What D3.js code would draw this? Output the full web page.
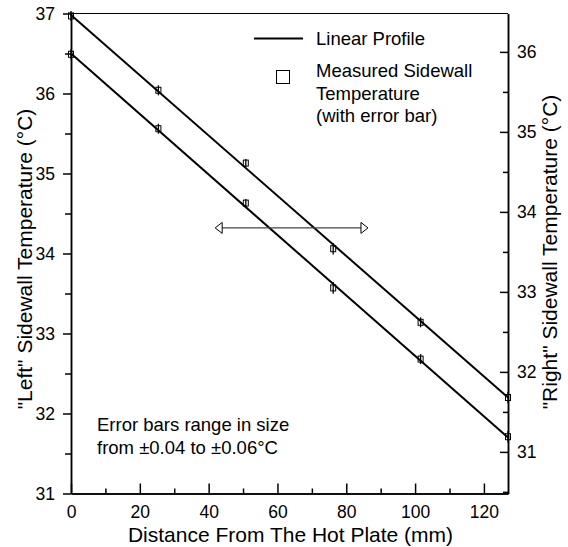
<!DOCTYPE html>
<html>
<head>
<meta charset="utf-8">
<script src="https://cdn.jsdelivr.net/npm/d3@7"></script>
<style>
  body { margin: 0; background: white; }
  text { font-family: "Liberation Sans", Arial, sans-serif; fill: black; }
  .axis path, .axis line { stroke: black; stroke-width: 1.5; }
  .axis text { font-size: 17.5px; font-family: "Liberation Sans", Arial, sans-serif; }
</style>
</head>
<body>
<div class="plot"></div>
<script>
// Data
var distance = [0, 25.4, 50.8, 76.2, 101.6, 127];
var leftTemp = [36.49, 35.56, 34.63, 33.57, 32.68, 31.71];
var rightTemp = [36.45, 35.52, 34.61, 33.54, 32.62, 31.68];
var errBar = [0.05, 0.05, 0.04, 0.06, 0.05, 0.06];

// Linear profiles (end points)
var profileX = [0, 127];
var leftProfile = [36.50, 31.70];
var rightProfile = [36.46, 31.68];

// Tick values
var xTicks = [0, 20, 40, 60, 80, 100, 120];
var xMinor = [10, 30, 50, 70, 90, 110];
var yLeftTicks = [31, 32, 33, 34, 35, 36, 37];
var yLeftMinor = [31.5, 32.5, 33.5, 34.5, 35.5, 36.5];
var yRightTicks = [31, 32, 33, 34, 35, 36];
var yRightMinor = [30.5, 31.5, 32.5, 33.5, 34.5, 35.5];

var outerWidth = 568,
    outerHeight = 547,
    margin = {top: 13.5, right: 60, bottom: 53.5, left: 71},
    width = outerWidth - margin.left - margin.right,
    height = outerHeight - margin.top - margin.bottom;

var svg = d3.select(".plot")
    .append("svg")
    .attr("width", outerWidth)
    .attr("height", outerHeight);

svg.append("rect")
    .attr("width", "100%")
    .attr("height", "100%")
    .attr("fill", "white");

var canvas = svg.append("g")
    .attr("transform", "translate(" + margin.left + "," + margin.top + ")");

// Scales
var xScale = d3.scaleLinear().domain([0, 127]).range([0, width]);
var yLeft = d3.scaleLinear().domain([31, 37]).range([height, 0]);
var yRight = d3.scaleLinear().domain([30.48, 36.48]).range([height, 0]);
var fmt = d3.format("d");

// Frame top line
canvas.append("line")
    .attr("x1", 0).attr("x2", width)
    .attr("y1", 0).attr("y2", 0)
    .attr("stroke", "black")
    .attr("stroke-width", 1.2);

// Bottom axis (ticks point inward)
canvas.append("g")
    .attr("class", "x axis")
    .attr("transform", "translate(0," + height + ")")
    .call(d3.axisBottom(xScale).tickValues(xTicks).tickFormat(fmt).tickSize(-10).tickSizeOuter(0).tickPadding(12));
canvas.append("g")
    .attr("class", "x axis minor")
    .attr("transform", "translate(0," + height + ")")
    .call(d3.axisBottom(xScale).tickValues(xMinor).tickSize(-5).tickSizeOuter(0).tickFormat(""));

// Left axis (ticks outward)
canvas.append("g")
    .attr("class", "y axis")
    .call(d3.axisLeft(yLeft).tickValues(yLeftTicks).tickFormat(fmt).tickSize(8).tickSizeOuter(0).tickPadding(8));
canvas.append("g")
    .attr("class", "y axis minor")
    .call(d3.axisLeft(yLeft).tickValues(yLeftMinor).tickSize(6).tickSizeOuter(0).tickFormat(""));

// Right axis (ticks inward)
canvas.append("g")
    .attr("class", "y axis")
    .attr("transform", "translate(" + width + ",0)")
    .call(d3.axisRight(yRight).tickValues(yRightTicks).tickFormat(fmt).tickSize(-8).tickSizeOuter(0).tickPadding(9));
canvas.append("g")
    .attr("class", "y axis minor")
    .attr("transform", "translate(" + width + ",0)")
    .call(d3.axisRight(yRight).tickValues(yRightMinor).tickSize(-5).tickSizeOuter(0).tickFormat(""));

// Linear profiles
var leftLine = d3.line().x(d => xScale(d[0])).y(d => yLeft(d[1]));
var rightLine = d3.line().x(d => xScale(d[0])).y(d => yRight(d[1]));

canvas.append("path")
    .datum(d3.zip(profileX, leftProfile))
    .attr("d", leftLine)
    .attr("fill", "none")
    .attr("stroke", "black")
    .attr("stroke-width", 2);

canvas.append("path")
    .datum(d3.zip(profileX, rightProfile))
    .attr("d", rightLine)
    .attr("fill", "none")
    .attr("stroke", "black")
    .attr("stroke-width", 2);

// Measured points with error bars
function drawPoints(values, yScale) {
    var g = canvas.append("g");
    var pts = g.selectAll("g.pt")
        .data(d3.zip(distance, values, errBar))
        .enter().append("g")
        .attr("class", "pt");
    pts.append("line")
        .attr("x1", d => xScale(d[0]))
        .attr("x2", d => xScale(d[0]))
        .attr("y1", d => yScale(d[1] - d[2]) + 1)
        .attr("y2", d => yScale(d[1] + d[2]) - 1)
        .attr("stroke", "black")
        .attr("stroke-width", 1.3);
    pts.append("rect")
        .attr("x", d => xScale(d[0]) - 2.5)
        .attr("y", d => yScale(d[1]) - 3)
        .attr("width", 5)
        .attr("height", 6)
        .attr("fill", "none")
        .attr("stroke", "black")
        .attr("stroke-width", 1);
}
drawPoints(leftTemp, yLeft);
drawPoints(rightTemp, yRight);

// Double arrow pointing to each axis
var arrowY = yLeft(34.32),
    arrowX1 = xScale(41.9),
    arrowX2 = xScale(86.3);
canvas.append("line")
    .attr("x1", arrowX1 + 7).attr("x2", arrowX2 - 7)
    .attr("y1", arrowY).attr("y2", arrowY)
    .attr("stroke", "#444")
    .attr("stroke-width", 1.2);
canvas.append("path")
    .attr("d", "M" + arrowX1 + "," + arrowY + "L" + (arrowX1 + 7) + "," + (arrowY - 5.5) + "L" + (arrowX1 + 7) + "," + (arrowY + 5.5) + "Z")
    .attr("fill", "white").attr("stroke", "black").attr("stroke-width", 1);
canvas.append("path")
    .attr("d", "M" + arrowX2 + "," + arrowY + "L" + (arrowX2 - 7) + "," + (arrowY - 5.5) + "L" + (arrowX2 - 7) + "," + (arrowY + 5.5) + "Z")
    .attr("fill", "white").attr("stroke", "black").attr("stroke-width", 1);

// Legend
var legend = svg.append("g");
legend.append("line")
    .attr("x1", 254).attr("x2", 303)
    .attr("y1", 38.5).attr("y2", 38.5)
    .attr("stroke", "black").attr("stroke-width", 2);
legend.append("text")
    .attr("x", 316).attr("y", 45)
    .style("font-size", "18.5px")
    .text("Linear Profile");
legend.append("rect")
    .attr("x", 276.5).attr("y", 70.5)
    .attr("width", 13).attr("height", 13)
    .attr("fill", "none").attr("stroke", "black").attr("stroke-width", 1);
legend.selectAll("text.m")
    .data(["Measured Sidewall", "Temperature", "(with error bar)"])
    .enter().append("text")
    .attr("class", "m")
    .attr("x", 316)
    .attr("y", (d, i) => 77 + i * 22.5)
    .style("font-size", "18.5px")
    .text(d => d);

// Note
svg.selectAll("text.note")
    .data(["Error bars range in size", "from \u00b10.04 to \u00b10.06\u00b0C"])
    .enter().append("text")
    .attr("class", "note")
    .attr("x", 97)
    .attr("y", (d, i) => 431 + i * 22.5)
    .style("font-size", "18.5px")
    .text(d => d);

// Axis titles
svg.append("text")
    .attr("text-anchor", "middle")
    .attr("x", 290.5)
    .attr("y", 541.5)
    .style("font-size", "21px")
    .text("Distance From The Hot Plate (mm)");

svg.append("text")
    .attr("text-anchor", "middle")
    .attr("transform", "translate(32,259) rotate(-90)")
    .style("font-size", "21px")
    .text("\"Left\" Sidewall Temperature (\u00b0C)");

svg.append("text")
    .attr("text-anchor", "middle")
    .attr("transform", "translate(557,252) rotate(-90)")
    .style("font-size", "21px")
    .text("\"Right\" Sidewall Temperature (\u00b0C)");
</script>
</body>
</html>
